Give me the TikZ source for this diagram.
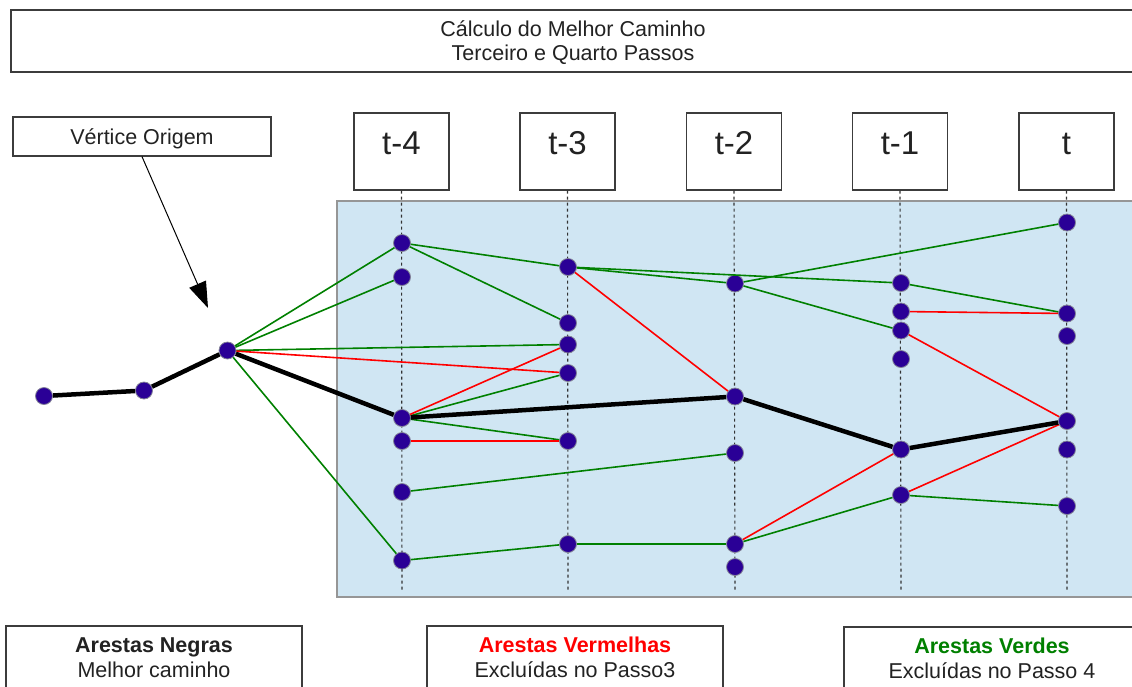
\documentclass[tikz,border=0pt]{standalone}
\usepackage{fontspec}
\setmainfont{Liberation Sans}
\usetikzlibrary{arrows.meta}
\definecolor{vtxfill}{RGB}{42,0,150}
\definecolor{vtxline}{RGB}{130,130,150}
\definecolor{panel}{RGB}{208,230,243}
\definecolor{panelline}{RGB}{150,150,150}
\definecolor{boxline}{RGB}{60,60,60}
\definecolor{ink}{RGB}{34,34,34}
\definecolor{edgegreen}{RGB}{0,128,0}
\definecolor{edgered}{RGB}{255,0,0}
\begin{document}
\begin{tikzpicture}[x=1pt,y=-1pt,
  txt/.style={font=\fontsize{21.5}{24.5}\selectfont, text=ink, align=center},
  framebox/.style={draw=boxline, line width=1.2pt, fill=white, inner sep=0pt, txt},
  tbox/.style={draw=boxline, line width=1.2pt, fill=white, inner sep=0pt,
    minimum width=95pt, minimum height=77pt, text height=24pt, text depth=18pt,
    font=\fontsize{33}{36}\selectfont, text=ink},
  dotline/.style={draw=black!80, line width=1.1pt, dash pattern=on 3pt off 3pt},
  vtx/.style={circle, fill=vtxfill, draw=vtxline, line width=0.8pt, minimum size=17pt, inner sep=0pt},
  keep/.style={draw=black, line width=4.5pt},
  cut/.style={draw=edgered, line width=1.6pt},
  green/.style={draw=edgegreen, line width=1.6pt}]
\useasboundingbox (0,0) rectangle (1132,686);
\clip (0,0) rectangle (1132,686);

% heading
\node[framebox, minimum width=1124pt, minimum height=62pt] (title) at (573,41)
  {\rule{0pt}{19pt}Cálculo do Melhor Caminho\\Terceiro e Quarto Passos};

% origin label and its pointer
\node[framebox, minimum width=258pt, minimum height=39pt, text height=17pt, text depth=2pt]
  (orig) at (142,136.5) {Vértice Origem};
\coordinate (tip) at (208,308);
\draw[line width=1pt, -{Triangle[length=26pt,width=18pt]}] (orig.south) -- (tip);

% time step headers
\node[tbox] (t4) at (401.5,151.5) {t-4};
\node[tbox] (t3) at (567.5,151.5) {t-3};
\node[tbox] (t2) at (734,151.5) {t-2};
\node[tbox] (t1) at (900,151.5) {t-1};
\node[tbox] (t0) at (1066.5,151.5) {t};

% panel holding the layered graph
\draw[fill=panel, draw=panelline, line width=1.2pt] (337,201) rectangle (1150,597);

% dotted time axes
\coordinate (b4) at (402,592);
\coordinate (b3) at (568,592);
\coordinate (b2) at (735,592);
\coordinate (b1) at (901,592);
\coordinate (b0) at (1067,592);
\draw[dotline] (t4.south) -- (b4);
\draw[dotline] (t3.south) -- (b3);
\draw[dotline] (t2.south) -- (b2);
\draw[dotline] (t1.south) -- (b1);
\draw[dotline] (t0.south) -- (b0);

% vertices before the window
\node[vtx] (a0) at (44,396) {};
\node[vtx] (a1) at (144,390.5) {};
\node[vtx] (a2) at (227.5,350.5) {};

% column t-4
\node[vtx] (p4a) at (402,243) {};
\node[vtx] (p4b) at (402,277) {};
\node[vtx] (p4c) at (402,418) {};
\node[vtx] (p4d) at (402,441) {};
\node[vtx] (p4e) at (402,492) {};
\node[vtx] (p4f) at (402,560.5) {};
% column t-3
\node[vtx] (p3a) at (568,267) {};
\node[vtx] (p3b) at (568,323) {};
\node[vtx] (p3c) at (568,344.5) {};
\node[vtx] (p3d) at (568,373) {};
\node[vtx] (p3e) at (568,441) {};
\node[vtx] (p3f) at (568,544) {};
% column t-2
\node[vtx] (p2a) at (735,283.5) {};
\node[vtx] (p2b) at (735,396.5) {};
\node[vtx] (p2c) at (735,453) {};
\node[vtx] (p2d) at (735,544) {};
\node[vtx] (p2e) at (735,567) {};
% column t-1
\node[vtx] (p1a) at (901,283) {};
\node[vtx] (p1b) at (901,311.5) {};
\node[vtx] (p1c) at (901,330.5) {};
\node[vtx] (p1d) at (901,359) {};
\node[vtx] (p1e) at (901,449.5) {};
\node[vtx] (p1f) at (901,495) {};
% column t
\node[vtx] (p0a) at (1067,222.5) {};
\node[vtx] (p0b) at (1067,313.5) {};
\node[vtx] (p0c) at (1067,336) {};
\node[vtx] (p0d) at (1067,421) {};
\node[vtx] (p0e) at (1067,449.5) {};
\node[vtx] (p0f) at (1067,506) {};

% edges dropped in step 4
\draw[green] (a2) -- (p4a);
\draw[green] (a2) -- (p4b);
\draw[green] (a2) -- (p3c);
\draw[green] (a2) -- (p4f);
\draw[green] (p4a) -- (p3a);
\draw[green] (p4a) -- (p3b);
\draw[green] (p3a) -- (p2a);
\draw[green] (p3a) -- (p1a);
\draw[green] (p2a) -- (p0a);
\draw[green] (p2a) -- (p1c);
\draw[green] (p1a) -- (p0b);
\draw[green] (p4c) -- (p3d);
\draw[green] (p4c) -- (p3e);
\draw[green] (p4e) -- (p2c);
\draw[green] (p4f) -- (p3f);
\draw[green] (p3f) -- (p2d);
\draw[green] (p2d) -- (p1f);
\draw[green] (p1f) -- (p0f);

% edges dropped in step 3
\draw[cut] (a2) -- (p3d);
\draw[cut] (p4c) -- (p3c);
\draw[cut] (p4d) -- (p3e);
\draw[cut] (p3a) -- (p2b);
\draw[cut] (p1b) -- (p0b);
\draw[cut] (p1c) -- (p0d);
\draw[cut] (p2d) -- (p1e);
\draw[cut] (p1f) -- (p0d);

% best path
\draw[keep] (a0) -- (a1) -- (a2) -- (p4c) -- (p2b) -- (p1e) -- (p0d);

% legend
\node[framebox, minimum width=296pt, minimum height=63pt] (lgblack) at (154,657.5)
  {\textbf{Arestas Negras}\\Melhor caminho};
\node[framebox, minimum width=296pt, minimum height=63pt] (lgred) at (575,657.5)
  {\textbf{\color{edgered}Arestas Vermelhas}\\Excluídas no Passo3};
\node[framebox, minimum width=296pt, minimum height=63pt] (lggreen) at (992,658.5)
  {\textbf{\color{edgegreen}Arestas Verdes}\\Excluídas no Passo 4};
\end{tikzpicture}
\end{document}
